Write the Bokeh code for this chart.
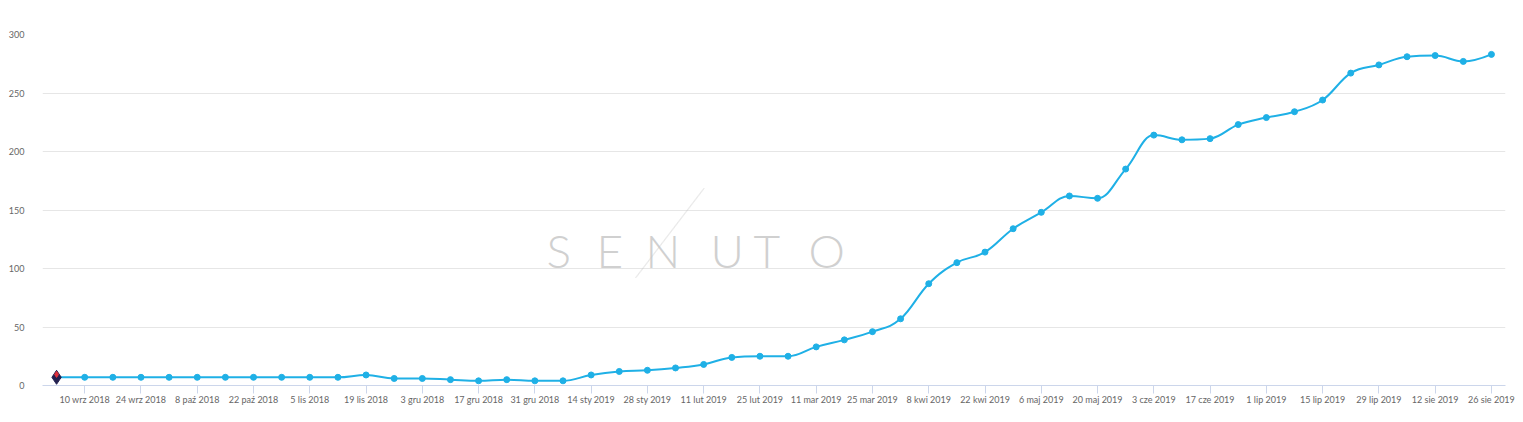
import numpy as np
import pandas as pd
from bokeh.plotting import figure
from bokeh.models import Range1d, FixedTicker, Label, ColumnDataSource, PolyAnnotation
from bokeh.embed import file_html
from bokeh.resources import INLINE

# ---- data ----
start_date = "2018-09-03"
n_weeks = 52
values = [7, 7, 7, 7, 7, 7, 7, 7, 7, 7, 7, 9, 6, 6, 5, 4, 5, 4, 4, 9,
          12, 13, 15, 18, 24, 25, 25, 33, 39, 46, 57, 87, 105, 114, 134,
          148, 162, 160, 185, 214, 210, 211, 223, 229, 234, 244, 267, 274,
          281, 282, 277, 283]
tick_labels = ["10 wrz 2018", "24 wrz 2018", "8 paź 2018", "22 paź 2018",
               "5 lis 2018", "19 lis 2018", "3 gru 2018", "17 gru 2018",
               "31 gru 2018", "14 sty 2019", "28 sty 2019", "11 lut 2019",
               "25 lut 2019", "11 mar 2019", "25 mar 2019", "8 kwi 2019",
               "22 kwi 2019", "6 maj 2019", "20 maj 2019", "3 cze 2019",
               "17 cze 2019", "1 lip 2019", "15 lip 2019", "29 lip 2019",
               "12 sie 2019", "26 sie 2019"]
y_ticks = [0, 50, 100, 150, 200, 250, 300]

dates = pd.date_range(start_date, periods=n_weeks, freq="7D")
xs = np.array([d.value / 1e6 for d in dates])  # ms
ys = np.array(values, dtype=float)
tick_dates = xs[1::2]

LINE = "#1fb0e6"
FONT = "Lato"
WM = "#d0d0d0"

week_ms = xs[1] - xs[0]
p = figure(width=1515, height=414, x_axis_type="datetime",
           output_backend="svg", toolbar_location=None,
           x_range=Range1d(xs[0] - week_ms / 2, xs[-1] + week_ms / 2),
           y_range=Range1d(0, 300),
           min_border_left=42, min_border_right=10,
           min_border_top=34, min_border_bottom=29)
p.outline_line_color = None
p.background_fill_color = "white"
p.border_fill_color = "white"

# grid
p.xgrid.grid_line_color = None
p.ygrid.grid_line_color = "#e6e6e6"
p.ygrid.grid_line_width = 1

# y axis
p.yaxis.ticker = FixedTicker(ticks=y_ticks)
p.yaxis.axis_line_color = None
p.yaxis.major_tick_line_color = None
p.yaxis.minor_tick_line_color = None
p.yaxis.major_label_standoff = 12
p.yaxis.major_label_text_font = FONT
p.yaxis.major_label_text_font_size = "9px"
p.yaxis.major_label_text_color = "#666666"

# x axis
p.xaxis.ticker = FixedTicker(ticks=list(tick_dates))
p.xaxis.major_label_overrides = {float(t): lab for t, lab in zip(tick_dates, tick_labels)}
p.xaxis.axis_line_color = "#ccd6eb"
p.xaxis.major_tick_line_color = "#ccd6eb"
p.xaxis.major_tick_in = 0
p.xaxis.major_tick_out = 8
p.xaxis.minor_tick_line_color = None
p.xaxis.major_label_standoff = 0
p.xaxis.major_label_text_font = FONT
p.xaxis.major_label_text_font_size = "9px"
p.xaxis.major_label_text_color = "#666666"

# watermark (screen units relative to plot frame)
for txt, sx in zip(["S", "E", "N", "U", "T", "O"], [504, 554, 603, 668, 711, 766]):
    p.add_layout(Label(x=sx, y=135, x_units="screen", y_units="screen",
                       text=txt, text_font="'Lato Light', 'Lato Hairline', Lato",
                       text_font_size="46px", text_color=WM,
                       text_baseline="alphabetic"))
p.add_layout(PolyAnnotation(xs=[593, 661, 661.8, 593.8], ys=[108, 197, 197, 108],
                            xs_units="screen", ys_units="screen",
                            fill_color=None, line_color="#c8c8c8", line_width=1))

# spline (Highcharts-style bezier control points)
smoothing = 1.5
denom = smoothing + 1
n = len(xs)
lcx = xs.copy(); lcy = ys.copy(); rcx = xs.copy(); rcy = ys.copy()
for i in range(1, n - 1):
    px, py = xs[i], ys[i]
    lx, ly = xs[i - 1], ys[i - 1]
    nx, ny = xs[i + 1], ys[i + 1]
    lcx_i = (smoothing * px + lx) / denom
    lcy_i = (smoothing * py + ly) / denom
    rcx_i = (smoothing * px + nx) / denom
    rcy_i = (smoothing * py + ny) / denom
    if rcx_i != lcx_i:
        corr = ((rcy_i - lcy_i) * (rcx_i - px)) / (rcx_i - lcx_i) + py - rcy_i
        lcy_i += corr
        rcy_i += corr
    if lcy_i > ly and lcy_i > py:
        lcy_i = max(ly, py); rcy_i = 2 * py - lcy_i
    elif lcy_i < ly and lcy_i < py:
        lcy_i = min(ly, py); rcy_i = 2 * py - lcy_i
    if rcy_i > ny and rcy_i > py:
        rcy_i = max(ny, py); lcy_i = 2 * py - rcy_i
    elif rcy_i < ny and rcy_i < py:
        rcy_i = min(ny, py); lcy_i = 2 * py - rcy_i
    lcx[i], lcy[i], rcx[i], rcy[i] = lcx_i, lcy_i, rcx_i, rcy_i

seg = ColumnDataSource(dict(x0=xs[:-1], y0=ys[:-1], x1=xs[1:], y1=ys[1:],
                            cx0=rcx[:-1], cy0=rcy[:-1], cx1=lcx[1:], cy1=lcy[1:]))
p.bezier(x0="x0", y0="y0", x1="x1", y1="y1", cx0="cx0", cy0="cy0",
         cx1="cx1", cy1="cy1", source=seg, line_color=LINE, line_width=2)

pts = ColumnDataSource(dict(x=xs, y=ys))
p.scatter(x="x", y="y", source=pts, size=6, color=LINE, line_color=LINE)

# annotation flag on first point
p.scatter(x=[xs[0]], y=[ys[0]], marker="diamond", size=14, color="#232150")
p.scatter(x=[xs[0]], y=[ys[0] + 2.5], marker="diamond", size=6, color="#e0303c")

open("out.html", "w").write(file_html(p, INLINE))
